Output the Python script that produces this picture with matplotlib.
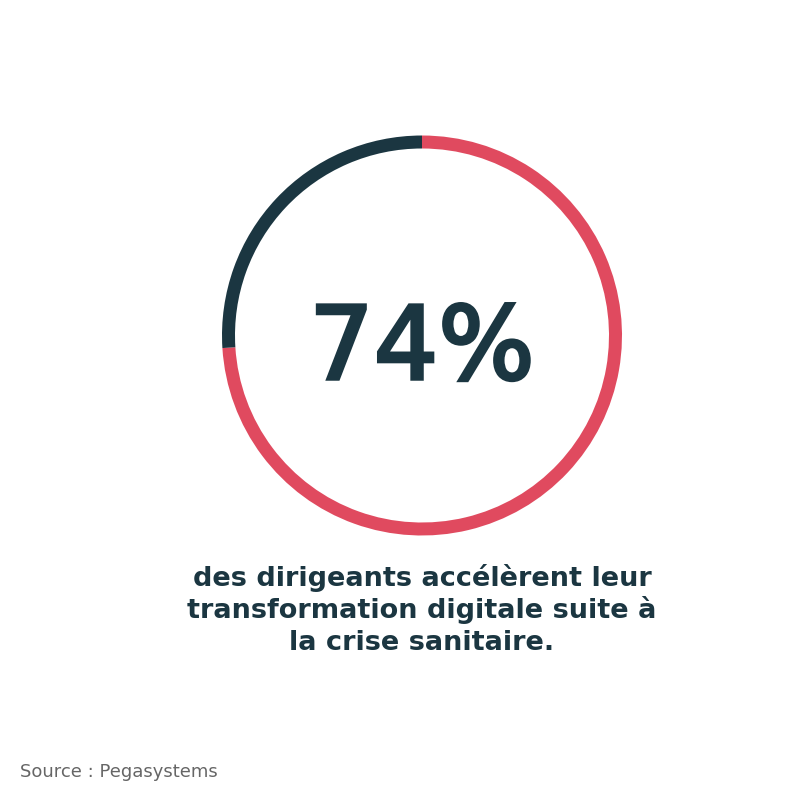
import matplotlib
matplotlib.use("Agg")
import matplotlib.pyplot as plt
import matplotlib.patheffects as pe

# data
labels = ["accélèrent", "autres"]
values = [74, 26]
colors = ["#e04a5f", "#1b3641"]
big_label = "74%"
caption_lines = ["des dirigeants accélèrent leur",
                 "transformation digitale suite à",
                 "la crise sanitaire."]
source = "Source : Pegasystems"

W = H = 800
fig = plt.figure(figsize=(8, 8), dpi=100)
ax = fig.add_axes([0, 0, 1, 1])
ax.set_xlim(0, W)
ax.set_ylim(0, H)
ax.set_aspect("equal")
ax.axis("off")

ax.pie(values, colors=colors, startangle=90, counterclock=False,
       center=(422, H - 335.5), radius=200,
       wedgeprops=dict(width=13, linewidth=0))
ax.set_xlim(0, W)
ax.set_ylim(0, H)

dark = "#1b3641"
# medium weight: normal glyphs thickened with a thin outline
ax.text(422, H - 379, big_label, ha="center", va="baseline",
        fontsize=73, fontweight="normal", color=dark, family="DejaVu Sans",
        path_effects=[pe.withStroke(linewidth=2.5, foreground=dark,
                                    joinstyle="miter")])
for i, line in enumerate(caption_lines):
    ax.text(422, H - (586 + 32 * i), line, ha="center", va="baseline",
            fontsize=19.5, fontweight="bold", color=dark, family="DejaVu Sans")
ax.text(20, H - 777, source, ha="left", va="baseline",
        fontsize=13, color="#666666", family="DejaVu Sans", fontweight="normal")

fig.savefig("out.png", dpi=100)
